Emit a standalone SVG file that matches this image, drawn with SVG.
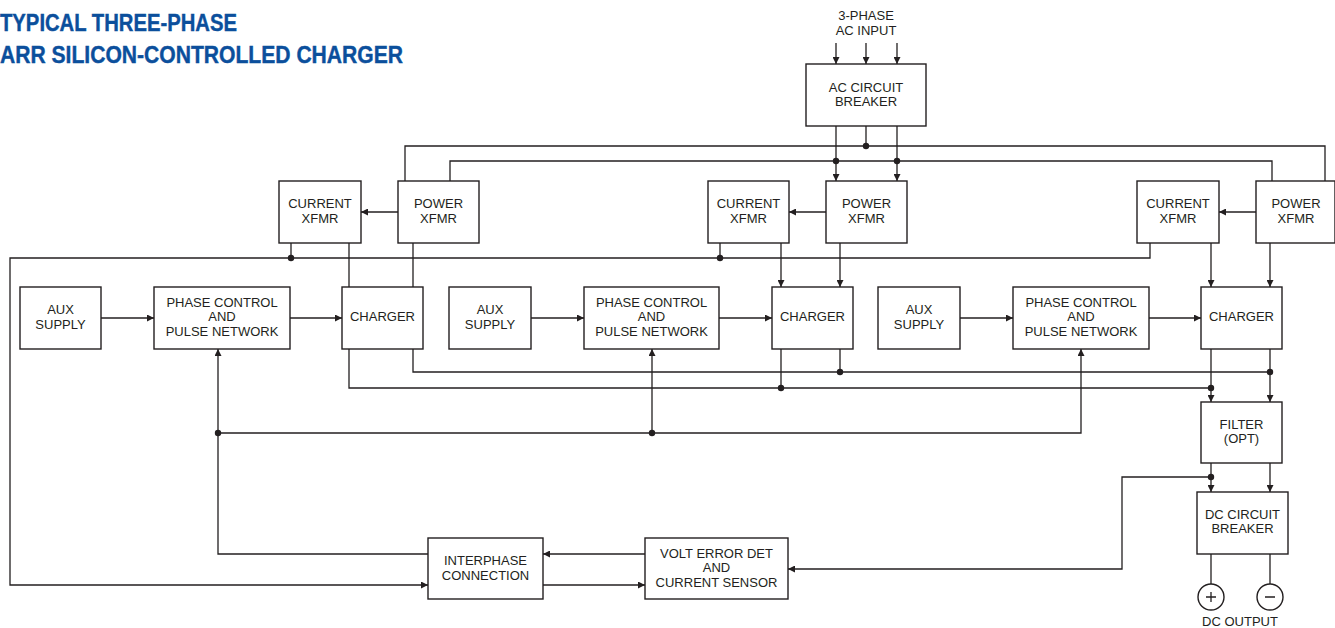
<svg xmlns="http://www.w3.org/2000/svg" width="1335" height="628" viewBox="0 0 1335 628">
<style>
.box{fill:#fff;stroke:#231f20;stroke-width:1.4}
.t{font-family:"Liberation Sans",Arial,sans-serif;font-size:13px;fill:#231f20;text-anchor:middle}
.ln{fill:none;stroke:#231f20;stroke-width:1.3}
.ar{marker-end:url(#arr)}
.dot{fill:#231f20}
.title{font-family:"Liberation Sans",Arial,sans-serif;font-weight:bold;font-size:23.5px;fill:#0b4f9c;stroke:#0b4f9c;stroke-width:0.4}
</style>
<defs>
<marker id="arr" viewBox="0 0 10 10" refX="10" refY="5" markerWidth="8" markerHeight="7" markerUnits="userSpaceOnUse" orient="auto">
<path d="M0,0 L10,5 L0,10 z" fill="#231f20"/>
</marker>
</defs>
<rect width="1335" height="628" fill="#fff"/>
<g id="title">
<text class="title" x="0" y="31" textLength="237" lengthAdjust="spacingAndGlyphs">TYPICAL THREE-PHASE</text>
<text class="title" x="0" y="63" textLength="403" lengthAdjust="spacingAndGlyphs">ARR SILICON-CONTROLLED CHARGER</text>
</g>
<g id="connectors">
<path class="ln ar" d="M836,43 V64"/>
<path class="ln ar" d="M866,43 V64"/>
<path class="ln ar" d="M897,43 V64"/>
<path class="ln" d="M866,126 V146"/>
<path class="ln ar" d="M836,126 V181"/>
<path class="ln ar" d="M897,126 V181"/>
<path class="ln" d="M405,181 V146 H1325 V181"/>
<path class="ln" d="M450,181 V161 H1272 V181"/>
<path class="ln ar" d="M398,212 H361"/>
<path class="ln ar" d="M826,212 H789"/>
<path class="ln ar" d="M1256,212 H1219"/>
<path class="ln" d="M291,243 V258"/>
<path class="ln" d="M349,243 V287"/>
<path class="ln" d="M413,243 V287"/>
<path class="ln" d="M720,243 V258"/>
<path class="ln ar" d="M781,243 V287"/>
<path class="ln ar" d="M840,243 V287"/>
<path class="ln ar" d="M1150,243 V258 H10 V585 H428"/>
<path class="ln ar" d="M1211,243 V287"/>
<path class="ln ar" d="M1270,243 V287"/>
<path class="ln ar" d="M101,318 H154"/>
<path class="ln ar" d="M290,318 H342"/>
<path class="ln ar" d="M531,318 H584"/>
<path class="ln ar" d="M719,318 H772"/>
<path class="ln ar" d="M960,318 H1013"/>
<path class="ln ar" d="M1149,318 H1201"/>
<path class="ln" d="M413,349 V372 H1270"/>
<path class="ln" d="M349,349 V388 H1211"/>
<path class="ln" d="M781,349 V388"/>
<path class="ln" d="M840,349 V372"/>
<path class="ln ar" d="M1211,349 V402"/>
<path class="ln ar" d="M1270,349 V402"/>
<path class="ln ar" d="M1211,463 V492"/>
<path class="ln ar" d="M1270,463 V492"/>
<path class="ln ar" d="M1211,477 H1122 V569 H788"/>
<path class="ln ar" d="M645,554 H543"/>
<path class="ln ar" d="M543,585 H645"/>
<path class="ln ar" d="M428,554 H218 V349"/>
<path class="ln ar" d="M218,433 H1081 V349"/>
<path class="ln ar" d="M652,433 V349"/>
<path class="ln" d="M1211,554 V584"/>
<path class="ln" d="M1270,554 V584"/>
<circle class="dot" cx="866" cy="146" r="3.2"/>
<circle class="dot" cx="836" cy="161" r="3.2"/>
<circle class="dot" cx="897" cy="161" r="3.2"/>
<circle class="dot" cx="291" cy="258" r="3.2"/>
<circle class="dot" cx="720" cy="258" r="3.2"/>
<circle class="dot" cx="840" cy="372" r="3.2"/>
<circle class="dot" cx="781" cy="388" r="3.2"/>
<circle class="dot" cx="1270" cy="372" r="3.2"/>
<circle class="dot" cx="1211" cy="388" r="3.2"/>
<circle class="dot" cx="1211" cy="477" r="3.2"/>
<circle class="dot" cx="218" cy="433" r="3.2"/>
<circle class="dot" cx="652" cy="433" r="3.2"/>
</g>
<g id="ac-input"><text class="t" x="866" y="20">3-PHASE</text><text class="t" x="866" y="35">AC INPUT</text></g>
<g id="ac-breaker"><rect class="box" x="806" y="64" width="120" height="62"/><text class="t" x="866" y="92">AC CIRCUIT</text><text class="t" x="866" y="106">BREAKER</text></g>
<g id="current-xfmr-1"><rect class="box" x="279" y="181" width="82" height="62"/><text class="t" x="320" y="208">CURRENT</text><text class="t" x="320" y="223">XFMR</text></g>
<g id="power-xfmr-1"><rect class="box" x="398" y="181" width="81" height="62"/><text class="t" x="438.5" y="208">POWER</text><text class="t" x="438.5" y="223">XFMR</text></g>
<g id="current-xfmr-2"><rect class="box" x="708" y="181" width="81" height="62"/><text class="t" x="748.5" y="208">CURRENT</text><text class="t" x="748.5" y="223">XFMR</text></g>
<g id="power-xfmr-2"><rect class="box" x="826" y="181" width="81" height="62"/><text class="t" x="866.5" y="208">POWER</text><text class="t" x="866.5" y="223">XFMR</text></g>
<g id="current-xfmr-3"><rect class="box" x="1137" y="181" width="82" height="62"/><text class="t" x="1178" y="208">CURRENT</text><text class="t" x="1178" y="223">XFMR</text></g>
<g id="power-xfmr-3"><rect class="box" x="1256" y="181" width="79" height="62"/><text class="t" x="1296" y="208">POWER</text><text class="t" x="1296" y="223">XFMR</text></g>
<g id="aux-1"><rect class="box" x="20" y="287" width="81" height="62"/><text class="t" x="60.5" y="314">AUX</text><text class="t" x="60.5" y="329">SUPPLY</text></g>
<g id="phase-1"><rect class="box" x="154" y="287" width="136" height="62"/><text class="t" x="222" y="307">PHASE CONTROL</text><text class="t" x="222" y="321">AND</text><text class="t" x="222" y="336">PULSE NETWORK</text></g>
<g id="charger-1"><rect class="box" x="342" y="287" width="81" height="62"/><text class="t" x="382.5" y="321">CHARGER</text></g>
<g id="aux-2"><rect class="box" x="449" y="287" width="82" height="62"/><text class="t" x="490" y="314">AUX</text><text class="t" x="490" y="329">SUPPLY</text></g>
<g id="phase-2"><rect class="box" x="584" y="287" width="135" height="62"/><text class="t" x="651.5" y="307">PHASE CONTROL</text><text class="t" x="651.5" y="321">AND</text><text class="t" x="651.5" y="336">PULSE NETWORK</text></g>
<g id="charger-2"><rect class="box" x="772" y="287" width="81" height="62"/><text class="t" x="812.5" y="321">CHARGER</text></g>
<g id="aux-3"><rect class="box" x="878" y="287" width="82" height="62"/><text class="t" x="919" y="314">AUX</text><text class="t" x="919" y="329">SUPPLY</text></g>
<g id="phase-3"><rect class="box" x="1013" y="287" width="136" height="62"/><text class="t" x="1081" y="307">PHASE CONTROL</text><text class="t" x="1081" y="321">AND</text><text class="t" x="1081" y="336">PULSE NETWORK</text></g>
<g id="charger-3"><rect class="box" x="1201" y="287" width="81" height="62"/><text class="t" x="1241.5" y="321">CHARGER</text></g>
<g id="filter"><rect class="box" x="1201" y="402" width="81" height="61"/><text class="t" x="1241.5" y="429">FILTER</text><text class="t" x="1241.5" y="443">(OPT)</text></g>
<g id="dc-breaker"><rect class="box" x="1197" y="492" width="91" height="62"/><text class="t" x="1242.5" y="519">DC CIRCUIT</text><text class="t" x="1242.5" y="533">BREAKER</text></g>
<g id="interphase"><rect class="box" x="428" y="538" width="115" height="61"/><text class="t" x="485.5" y="565">INTERPHASE</text><text class="t" x="485.5" y="580">CONNECTION</text></g>
<g id="volt-error"><rect class="box" x="645" y="538" width="143" height="61"/><text class="t" x="716.5" y="558">VOLT ERROR DET</text><text class="t" x="716.5" y="572">AND</text><text class="t" x="716.5" y="587">CURRENT SENSOR</text></g>
<g id="dc-output">
<circle class="box" cx="1211" cy="597" r="13"/>
<circle class="box" cx="1270" cy="597" r="13"/>
<path class="ln" d="M1206,597 H1216 M1211,592 V602 M1265,597 H1275"/>
<text class="t" x="1240" y="626">DC OUTPUT</text>
</g>
</svg>
